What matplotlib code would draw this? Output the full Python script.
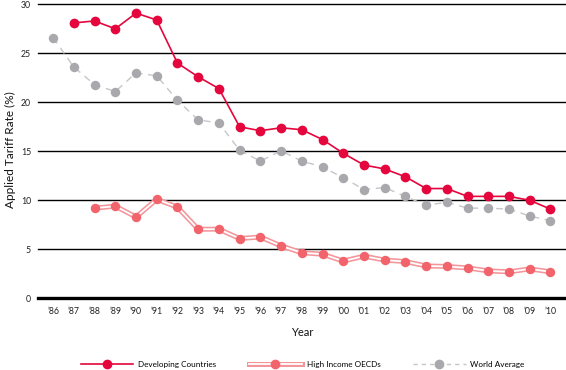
import matplotlib.pyplot as plt
from matplotlib.lines import Line2D

plt.rcParams['font.family'] = ['Lato', 'DejaVu Sans']

years = list(range(1986, 2011))
year_labels = ["\u2019%02d" % (y % 100) for y in years]

# 发展中国家 (从 1987 开始)
dev_years = list(range(1987, 2011))
developing = [28.1, 28.3, 27.5, 29.1, 28.4, 24.0, 22.6, 21.4, 17.5, 17.1, 17.4, 17.2,
              16.2, 14.8, 13.6, 13.2, 12.4, 11.2, 11.2, 10.4, 10.4, 10.4, 10.0, 9.1]

# 高收入 OECD (从 1988 开始)
oecd_years = list(range(1988, 2011))
high_income = [9.2, 9.4, 8.3, 10.1, 9.3, 7.05, 7.05, 6.1, 6.25, 5.35, 4.65, 4.5,
               3.8, 4.3, 3.9, 3.75, 3.3, 3.25, 3.1, 2.8, 2.7, 3.0, 2.7]

# 世界平均
world = [26.6, 23.6, 21.8, 21.1, 23.0, 22.7, 20.2, 18.2, 17.9, 15.1, 14.0, 15.05,
         14.0, 13.4, 12.3, 11.1, 11.3, 10.4, 9.5, 9.8, 9.2, 9.2, 9.1, 8.4, 7.9]

red = '#E4063C'
salmon = '#F2646C'
salmon_light = '#F4959A'
gray = '#A9A9AD'
gray_line = '#C6C6C8'

fig = plt.figure(figsize=(5.66, 3.70), dpi=100)
ax = fig.add_axes([38 / 566, 1 - 298.3 / 370, 1 - 38 / 566, 294 / 370])

# 网格线
for v in [5, 10, 15, 20, 25, 30]:
    ax.axhline(v, color='black', lw=1.0, zorder=1, clip_on=False)
ax.axhline(0, color='black', lw=2.4, zorder=1, clip_on=False)

# 世界平均 - 灰色虚线
ax.plot(years, world, color=gray_line, lw=1.0, ls=(0, (5, 4)), zorder=2)
ax.plot(years, world, ls='none', marker='o', ms=6.8, color=gray, mec='none', zorder=3, clip_on=False)

# 高收入 - 双线
ax.plot(oecd_years, high_income, color=salmon_light, lw=3.6, zorder=4, solid_joinstyle='miter')
ax.plot(oecd_years, high_income, color='white', lw=1.3, zorder=5, solid_joinstyle='miter')
ax.plot(oecd_years, high_income, ls='none', marker='o', ms=6.8, color=salmon, mec='none', zorder=6)

# 发展中国家 - 红色实线
ax.plot(dev_years, developing, color=red, lw=1.2, zorder=7)
ax.plot(dev_years, developing, ls='none', marker='o', ms=7, color=red, mec='none', zorder=8, clip_on=False)

ax.set_xlim(1985.27, 2010.75)
ax.set_ylim(0, 30)
ax.set_xticks(years)
ax.set_xticklabels(year_labels, fontsize=6.3, color='#222222')
ax.set_yticks([0, 5, 10, 15, 20, 25, 30])
ax.set_yticklabels(['0', '5', '10', '15', '20', '25', '30'], fontsize=6.3, color='#222222')
ax.tick_params(length=0, pad=6)
ax.tick_params(axis='y', pad=5)
for s in ax.spines.values():
    s.set_visible(False)

ax.set_xlabel('Year', fontsize=8, labelpad=8, color='#111111')
fig.text(10 / 566, 1 - 150 / 370, 'Applied Tariff Rate (%)', rotation=90,
         ha='center', va='center', fontsize=8.5, color='#111111')

# 图例
h_dev = Line2D([], [], color=red, lw=1.2, marker='o', ms=7, mec='none')
h_oecd = (Line2D([], [], color=salmon_light, lw=3.6),
          Line2D([], [], color='white', lw=1.3),
          Line2D([], [], ls='none', marker='o', ms=7, color=salmon, mec='none'))
h_world = Line2D([], [], color=gray_line, lw=1.0, ls=(0, (3, 3)), marker='o', ms=7,
                 mfc=gray, mec='none')
fig.legend([h_dev, h_oecd, h_world], ['Developing Countries', 'High Income OECDs', 'World Average'],
           loc='center', bbox_to_anchor=(0.535, 1 - 364 / 370), ncol=3, frameon=False,
           fontsize=5.9, handlelength=6.4, handletextpad=0.6, columnspacing=4.0)

fig.savefig('out.png', dpi=100)
